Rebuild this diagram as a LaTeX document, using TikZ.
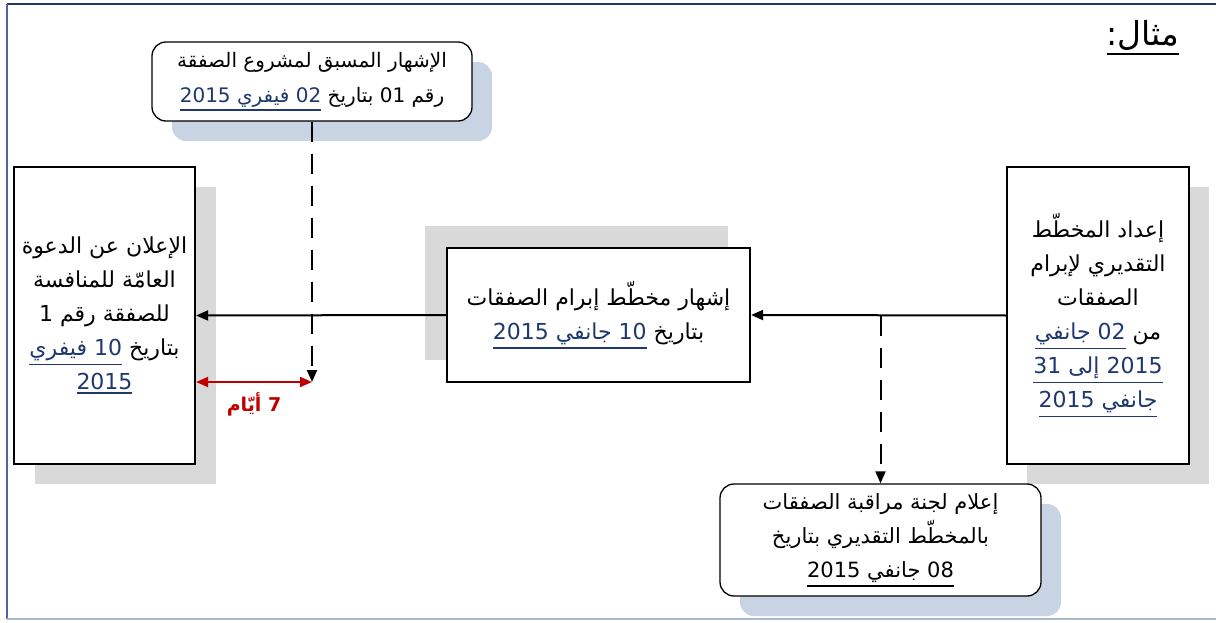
\documentclass[tikz,border=0pt]{standalone}
\usepackage{fontspec}
\setmainfont{DejaVu Sans}
\newfontfamily\arabicfont[Script=Arabic]{DejaVu Sans}
\usetikzlibrary{arrows.meta,shadows}
\TeXXeTstate=1
\definecolor{datecol}{RGB}{31,56,110}
\definecolor{shadowgray}{RGB}{217,217,217}
\definecolor{shadowblue}{RGB}{200,212,228}
\definecolor{delayred}{RGB}{192,0,0}
\definecolor{framenavy}{RGB}{31,56,100}
\definecolor{frameblue}{RGB}{79,100,160}
\definecolor{framelight}{RGB}{170,184,208}
\newcommand{\rl}[1]{\beginR #1\endR}
\newcommand{\ulin}[1]{\leavevmode\vtop{\hbox{\beginR #1\endR}\kern2.5pt\hrule height 1.6pt}}
\newcommand{\dte}[1]{\textcolor{datecol}{\ulin{#1}}}

\begin{document}
\begin{tikzpicture}[x=1pt, y=-1pt,
    stepbox/.style={rectangle, draw=black, line width=2.2pt, fill=white,
        inner sep=0pt, align=center, font=\arabicfont\fontsize{22}{34}\selectfont},
    notebox/.style={rectangle, rounded corners=14pt, draw=black, line width=1.3pt,
        fill=white, inner sep=0pt, align=center,
        font=\arabicfont\fontsize{21}{34}\selectfont,
        general shadow={fill=shadowblue, shadow xshift=20pt, shadow yshift=-20pt}},
    flow/.style={line width=2pt, -{Triangle[length=12pt,width=10pt]}},
    notice/.style={flow, dash pattern=on 20pt off 12pt}
]
    \useasboundingbox (0,0) rectangle (1216,623);
    % frame
    \draw[framenavy, line width=2pt] (7,4) -- (1216,4);
    \draw[frameblue, line width=2.5pt] (7,4) -- (7,619);
    \draw[framelight, line width=2pt] (7,619) -- (1216,619);

    \node[font=\arabicfont\fontsize{33}{36}\selectfont] (title) at (1143,38)
        {\ulin{مثال:}};

    % main chain
    \node[stepbox, minimum width=182pt, minimum height=297pt,
        general shadow={fill=shadowgray, shadow xshift=20pt, shadow yshift=-20pt}]
        (plan) at (1098,315.5)
        {\rl{إعداد المخطّط}\\ \rl{التقديري لإبرام}\\ \rl{الصفقات}\\
         \dte{02 جانفي} \rl{من}\\ \dte{2015 إلى 31}\\ \dte{جانفي 2015}};
    \node[stepbox, minimum width=303pt, minimum height=134pt,
        general shadow={fill=shadowgray, shadow xshift=-22pt, shadow yshift=22pt}]
        (publish) at (598.5,315)
        {\rl{إشهار مخطّط إبرام الصفقات}\\ \dte{10 جانفي 2015} \rl{بتاريخ}};
    \node[stepbox, minimum width=181pt, minimum height=297pt,
        general shadow={fill=shadowgray, shadow xshift=21pt, shadow yshift=-20pt}]
        (call) at (104.5,315.5)
        {\rl{الإعلان عن الدعوة}\\ \rl{العامّة للمنافسة}\\ \rl{للصفقة رقم 1}\\
         \dte{10 فيفري} \rl{بتاريخ}\\ \dte{2015}};

    % side notes
    \node[notebox, minimum width=320pt, minimum height=79pt,
        font=\arabicfont\fontsize{20}{35}\selectfont] (prior) at (312,81.5)
        {\rl{الإشهار المسبق لمشروع الصفقة}\\ \dte{02 فيفري 2015} \rl{رقم 01 بتاريخ}};
    \node[notebox, minimum width=321pt, minimum height=112pt] (inform) at (880.5,540)
        {\rl{إعلام لجنة مراقبة الصفقات}\\ \rl{بالمخطّط التقديري بتاريخ}\\
         \ulin{08 جانفي 2015}};

    \coordinate (priortip) at (prior.south |- 0,382);
    \coordinate (split) at (inform.north |- plan.west);

    \draw[flow] (plan.west) -- (publish.east);
    \draw[flow] (publish.west) -- (call.east);
    \draw[notice] (prior.south) -- (priortip);
    \draw[notice] (split) -- (inform.north);

    % delay
    \draw[delayred, line width=2pt,
        {Triangle[length=12pt,width=10pt]}-{Triangle[length=12pt,width=10pt]}]
        (call.east |- priortip) -- (priortip)
        node[midway, below=6pt, font=\arabicfont\bfseries\fontsize{19}{22}\selectfont]
        (delay) {\rl{7 أيّام}};
\end{tikzpicture}
\end{document}
